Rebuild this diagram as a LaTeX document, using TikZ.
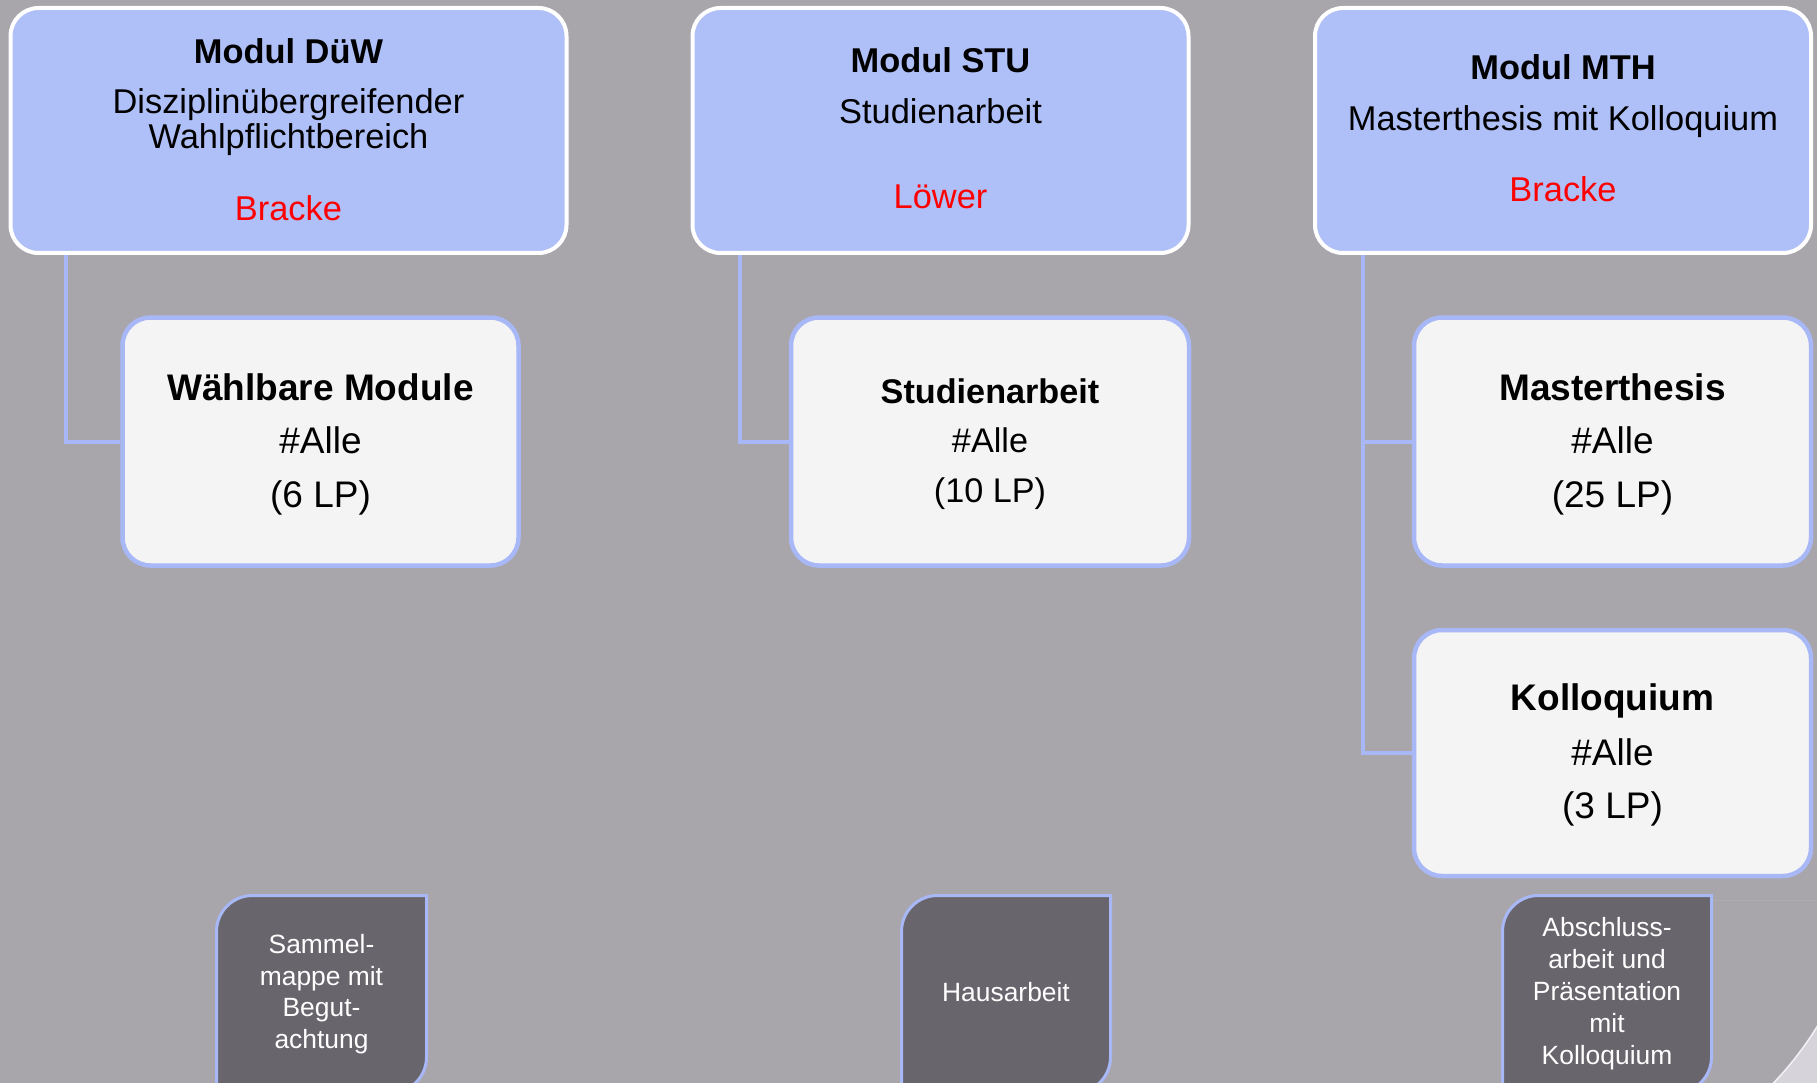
\documentclass[tikz,border=0pt]{standalone}
\usepackage{fontspec}
\setmainfont{Liberation Sans}
\definecolor{bgc}{HTML}{A8A5AB}
\definecolor{topfill}{HTML}{AFBFF7}
\definecolor{childfill}{HTML}{F4F4F4}
\definecolor{blueline}{HTML}{A8B8F6}
\definecolor{botfill}{HTML}{69656C}
\definecolor{cornerc}{HTML}{D6D4DA}
\newcommand\FTop{\fontsize{34.4}{40}\selectfont}
\newcommand\FChild{\fontsize{37}{44}\selectfont}
\newcommand\FChildS{\fontsize{34.2}{40}\selectfont}
\newcommand\FBot{\fontsize{26.4}{32}\selectfont}
\begin{document}
\begin{tikzpicture}[x=1pt,y=-1pt,
  topbox/.style={draw=white, line width=4pt, fill=topfill, rounded corners=28pt, inner sep=0pt},
  childbox/.style={draw=blueline, line width=4.5pt, fill=childfill, rounded corners=28pt, inner sep=0pt},
  botline/.style={draw=blueline, line width=3pt, fill=botfill},
  conn/.style={draw=blueline, line width=4pt},
  ttop/.style={anchor=base, inner sep=0pt, font=\FTop},
  tchild/.style={anchor=base, inner sep=0pt, font=\FChild},
  tchilds/.style={anchor=base, inner sep=0pt, font=\FChildS},
  tbot/.style={anchor=base, inner sep=0pt, font=\FBot, text=white},
  red/.style={text={rgb,255:red,255;green,0;blue,0}}]
\useasboundingbox (0,0) rectangle (1817,1083);
\fill[bgc] (0,0) rectangle (1817,1083);
% corner decoration
\begin{scope}
  \clip (1600,900) rectangle (1817,1083);
  \fill[cornerc, even odd rule] (1600,900) rectangle (1817,1083) (1530,850) circle (337);
  \draw[white!85!bgc, line width=1.5pt] (1530,850) circle (337);
\end{scope}
% top boxes
\node[topbox, minimum width=556pt, minimum height=245pt] (m1) at (288.5,130.5) {};
\node[topbox, minimum width=496pt, minimum height=245pt] (m2) at (940.5,130.5) {};
\node[topbox, minimum width=496pt, minimum height=245pt] (m3) at (1563,130.5) {};
% child boxes
\node[childbox, minimum width=396pt, minimum height=248pt] (w1) at (320.5,441.5) {};
\node[childbox, minimum width=398pt, minimum height=248pt] (s2) at (990,441.5) {};
\node[childbox, minimum width=397pt, minimum height=248pt] (t3) at (1612.5,441.5) {};
\node[childbox, minimum width=397pt, minimum height=246pt] (k3) at (1612.5,753) {};
% connectors
\draw[conn] ([xshift=57pt]m1.south west) |- (w1);
\draw[conn] ([xshift=49pt]m2.south west) |- (s2);
\draw[conn] ([xshift=50pt]m3.south west) |- (t3);
\draw[conn] ([xshift=50pt]m3.south west) |- (k3);
% bottom boxes
\foreach \xa/\xb in {216.5/426.5, 901.5/1110.5, 1502.5/1711.5}{
  \path[botline] (\xa,1093) -- (\xa,931.5) arc[start angle=180,end angle=270,radius=36]
    -- (\xb,895.5) -- (\xb,1057) arc[start angle=0,end angle=90,radius=36] -- cycle;
}
% texts top box 1
\node[ttop, font=\FTop\bfseries] (m1a) at (288.5,64) {Modul DüW};
\node[ttop] (m1b) at (288.5,114) {Disziplinübergreifender};
\node[ttop] (m1c) at (288.5,149) {Wahlpflichtbereich};
\node[ttop, red] (m1d) at (288.5,221) {Bracke};
% top box 2
\node[ttop, font=\FTop\bfseries] (m2a) at (940.5,73) {Modul STU};
\node[ttop] (m2b) at (940.5,124) {Studienarbeit};
\node[ttop, red] (m2c) at (940.5,209) {Löwer};
% top box 3
\node[ttop, font=\FTop\bfseries] (m3a) at (1563,80) {Modul MTH};
\node[ttop] (m3b) at (1563,131) {Masterthesis mit Kolloquium};
\node[ttop, red] (m3c) at (1563,202) {Bracke};
% child texts
\node[tchild, font=\FChild\bfseries] (w1a) at (320.5,400) {Wählbare Module};
\node[tchild] (w1b) at (320.5,453) {\#Alle};
\node[tchild] (w1c) at (320.5,507) {(6 LP)};
\node[tchilds, font=\FChildS\bfseries] (s2a) at (990,403) {Studienarbeit};
\node[tchilds] (s2b) at (990,452) {\#Alle};
\node[tchilds] (s2c) at (990,502) {(10 LP)};
\node[tchild, font=\FChild\bfseries] (t3a) at (1612.5,400) {Masterthesis};
\node[tchild] (t3b) at (1612.5,453) {\#Alle};
\node[tchild] (t3c) at (1612.5,507) {(25 LP)};
\node[tchild, font=\FChild\bfseries] (k3a) at (1612.5,710) {Kolloquium};
\node[tchild] (k3b) at (1612.5,765) {\#Alle};
\node[tchild] (k3c) at (1612.5,818) {(3 LP)};
% bottom texts
\node[tbot] (b1a) at (321.5,953) {Sammel-};
\node[tbot] (b1b) at (321.5,985) {mappe mit};
\node[tbot] (b1c) at (321.5,1016) {Begut-};
\node[tbot] (b1d) at (321.5,1048) {achtung};
\node[tbot] (b2a) at (1006,1001) {Hausarbeit};
\node[tbot] (b3a) at (1607,936) {Abschluss-};
\node[tbot] (b3b) at (1607,968) {arbeit und};
\node[tbot] (b3c) at (1607,1000) {Präsentation};
\node[tbot] (b3d) at (1607,1032) {mit};
\node[tbot] (b3e) at (1607,1064) {Kolloquium};
\end{tikzpicture}
\end{document}
